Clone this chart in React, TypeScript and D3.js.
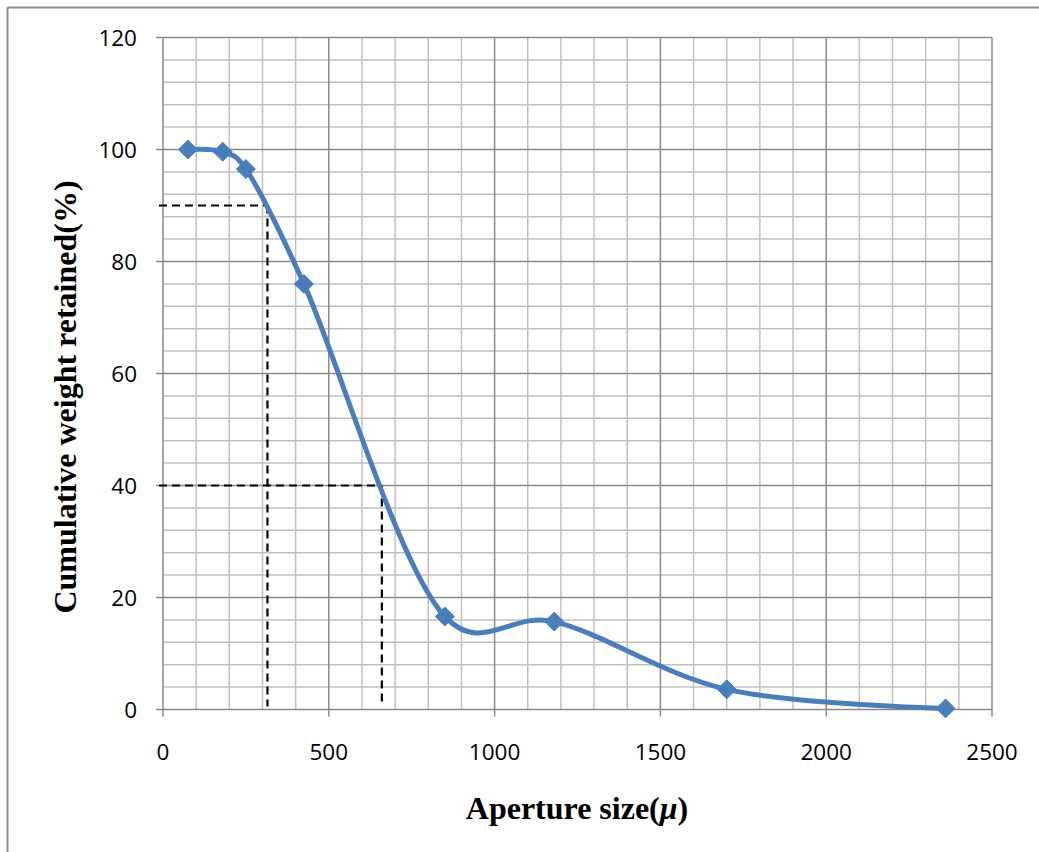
import React from "react";
import * as d3 from "d3";

const apertureSizes = [75, 180, 250, 425, 850, 1180, 1700, 2360];
const cumulativeRetained = [100, 99.6, 96.5, 76, 16.6, 15.7, 3.6, 0.2];
const xTicks = [0, 500, 1000, 1500, 2000, 2500];
const yTicks = [0, 20, 40, 60, 80, 100, 120];
const guideLines = [
  { x: 315, y: 90 },
  { x: 660, y: 40 },
];

const W = 1039;
const H = 852;
const left = 163;
const right = 992;
const top = 37.5;
const bottom = 709.5;

export default function App() {
  const x = d3.scaleLinear().domain([0, 2500]).range([left, right]);
  const y = d3.scaleLinear().domain([0, 120]).range([bottom, top]);

  const minorX = d3.range(0, 2501, 100).filter((v) => v % 500 !== 0);
  const minorY = d3.range(0, 121, 4).filter((v) => v % 20 !== 0);

  const pts: [number, number][] = apertureSizes.map((a, i) => [x(a), y(cumulativeRetained[i])]);
  const line = d3.line().curve(d3.curveCatmullRom.alpha(0.2))(pts) || "";

  const diamond = (cx: number, cy: number, r: number) =>
    `M${cx},${cy - r}L${cx + r},${cy}L${cx},${cy + r}L${cx - r},${cy}Z`;

  return (
    <svg
      width={W}
      height={H}
      style={{ position: "absolute", left: 0, top: 0, background: "#fff" }}
    >
      <rect x={0} y={0} width={W} height={H} fill="#fff" />
      {/* outer chart border */}
      <line x1={7.5} y1={7.5} x2={W} y2={7.5} stroke="#8c8c8c" strokeWidth={2} />
      <line x1={7.5} y1={7.5} x2={7.5} y2={H} stroke="#8c8c8c" strokeWidth={2} />

      {/* minor grid */}
      {minorX.map((v) => (
        <line key={"mx" + v} x1={x(v)} x2={x(v)} y1={top} y2={bottom} stroke="#c0c0c0" strokeWidth={1.5} />
      ))}
      {minorY.map((v) => (
        <line key={"my" + v} x1={left} x2={right} y1={y(v)} y2={y(v)} stroke="#c0c0c0" strokeWidth={1.5} />
      ))}
      {/* major grid */}
      {xTicks.map((v) => (
        <line key={"Mx" + v} x1={x(v)} x2={x(v)} y1={top} y2={bottom + 7} stroke="#8a8a8a" strokeWidth={1.5} />
      ))}
      {yTicks.map((v) => (
        <line key={"My" + v} x1={left - 7} x2={right} y1={y(v)} y2={y(v)} stroke="#8a8a8a" strokeWidth={1.5} />
      ))}

      {/* tick labels */}
      {yTicks.map((v) => (
        <text
          key={"yl" + v}
          x={137}
          y={y(v)}
          dy="0.36em"
          textAnchor="end"
          fontFamily="'Open Sans', Lato, sans-serif"
          fontSize={22.5}
          fill="#000"
        >
          {v}
        </text>
      ))}
      {xTicks.map((v) => (
        <text
          key={"xl" + v}
          x={x(v)}
          y={760}
          textAnchor="middle"
          fontFamily="'Open Sans', Lato, sans-serif"
          fontSize={22.5}
          fill="#000"
        >
          {v}
        </text>
      ))}

      {/* dashed guide lines */}
      {guideLines.map((g, i) => (
        <g key={"g" + i}>
          <line x1={left - 4} x2={x(g.x)} y1={y(g.y)} y2={y(g.y)} stroke="#000" strokeWidth={2.2} strokeDasharray="8,5" />
          <line x1={x(g.x)} x2={x(g.x)} y1={y(g.y)} y2={bottom - 3} stroke="#000" strokeWidth={2.2} strokeDasharray="8,5" />
        </g>
      ))}

      {/* data line */}
      <path d={line} fill="none" stroke="#4a7ebb" strokeWidth={5} strokeLinejoin="round" />
      {pts.map(([cx, cy], i) => (
        <path key={"p" + i} d={diamond(cx, cy, 9.5)} fill="#4a7ebb" stroke="#4a7ebb" strokeWidth={1} />
      ))}

      {/* axis titles */}
      <text
        x={577}
        y={819}
        textAnchor="middle"
        fontFamily="'Liberation Serif', 'Times New Roman', serif"
        fontWeight="bold"
        fontSize={32}
        fill="#000"
      >
        Aperture size(<tspan fontStyle="italic">μ</tspan>)
      </text>
      <text
        transform={`translate(76, 397) rotate(-90)`}
        textAnchor="middle"
        fontFamily="'Liberation Serif', 'Times New Roman', serif"
        fontWeight="bold"
        fontSize={32}
        fill="#000"
      >
        Cumulative weight retained(%)
      </text>
    </svg>
  );
}
